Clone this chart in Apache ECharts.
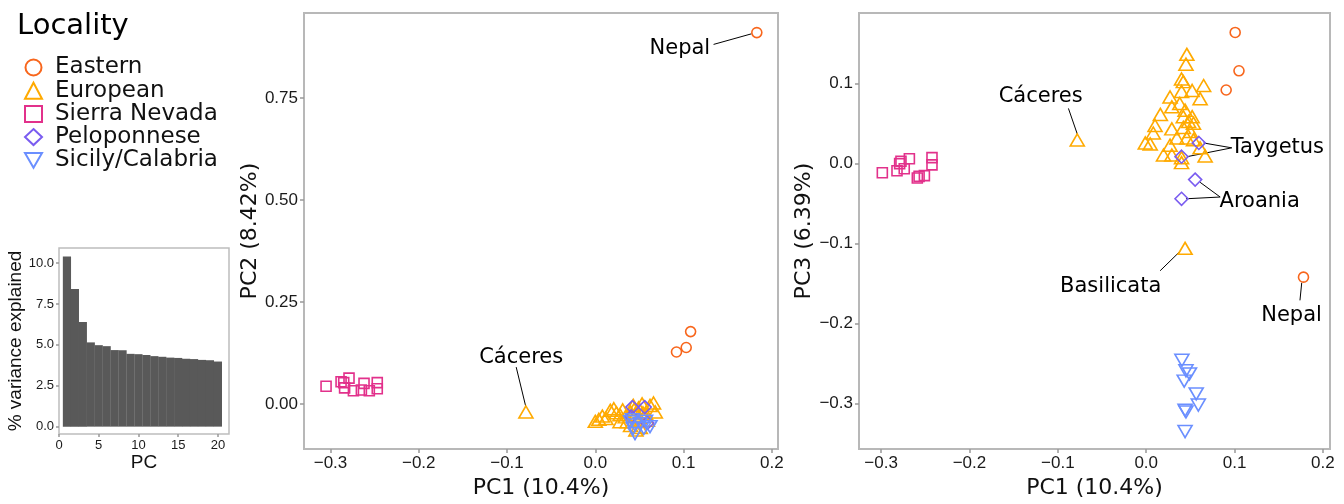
<!DOCTYPE html>
<html>
<head>
<meta charset="utf-8">
<script src="https://cdn.jsdelivr.net/npm/echarts@6/dist/echarts.min.js"></script>
<style>
html, body { margin: 0; background: #fff; }
#container { width: 1344px; height: 504px; }
</style>
</head>
<body>
<div id="container"></div>
<script>
// groups and styling
var groups = ['Eastern', 'European', 'Sierra Nevada', 'Peloponnese', 'Sicily/Calabria'];
var colors = ['#F8661C', '#FFAA00', '#E2318B', '#7A5CF0', '#6B8FFF'];
var symbols = ['circle', 'triangle', 'rect', 'diamond', 'path://M0,0L10,0L5,8.66Z'];
var symbolSizes = [10, [14, 12], 10, 13, [14, 12]];

// inset: % variance explained per PC
var pcIndex = [1, 2, 3, 4, 5, 6, 7, 8, 9, 10, 11, 12, 13, 14, 15, 16, 17, 18, 19, 20];
var variance = [10.4, 8.42, 6.39, 5.15, 4.98, 4.92, 4.68, 4.67, 4.45, 4.43, 4.38, 4.31, 4.27, 4.22, 4.2, 4.15, 4.13, 4.08, 4.06, 3.98];

// PC1 vs PC2
var eastern12 = [[0.183, 0.910], [0.108, 0.177], [0.103, 0.138], [0.092, 0.127]];
var european12 = [[-0.0786, -0.020],
  [0.000, -0.043], [0.004, -0.038], [0.008, -0.030], [0.012, -0.036], [0.017, -0.016], [0.021, -0.012],
  [0.024, -0.022], [0.028, -0.027], [0.028, -0.044], [0.031, -0.015], [0.034, -0.032], [0.036, -0.044],
  [0.040, -0.020], [0.040, -0.053], [0.043, -0.004], [0.045, -0.028], [0.047, -0.040], [0.049, -0.010],
  [0.051, -0.058], [0.053, 0.000], [0.054, -0.022], [0.057, -0.024], [0.059, -0.040], [0.062, -0.004],
  [0.066, 0.002], [0.068, -0.020], [0.044, -0.014], [0.050, -0.034], [0.046, -0.064]];
var sierra12 = [[-0.305, 0.043], [-0.288, 0.054], [-0.285, 0.052], [-0.279, 0.063], [-0.284, 0.039], [-0.274, 0.032],
  [-0.265, 0.034], [-0.262, 0.050], [-0.256, 0.032], [-0.247, 0.052], [-0.247, 0.037]];
var pelop12 = [[0.042, -0.008], [0.056, -0.008], [0.059, -0.047], [0.041, -0.031]];
var sicily12 = [[0.040, -0.044], [0.045, -0.052], [0.051, -0.048], [0.055, -0.060], [0.043, -0.060], [0.062, -0.056],
  [0.045, -0.073], [0.057, -0.043], [0.042, -0.039]];

// PC1 vs PC3
var eastern13 = [[0.178, -0.142], [0.1007, 0.164], [0.105, 0.116], [0.0905, 0.092]];
var european13 = [[-0.078, 0.0295], [0.044, -0.106],
  [0.046, 0.1366], [0.045, 0.1243], [0.040, 0.1058], [0.042, 0.1025], [0.065, 0.0976], [0.052, 0.0914],
  [0.040, 0.0902], [0.027, 0.0833], [0.061, 0.0812], [0.038, 0.0751], [0.029, 0.0710], [0.044, 0.0668],
  [0.016, 0.0615], [0.052, 0.0587], [0.042, 0.0587], [0.048, 0.0526], [0.010, 0.0476], [0.0535, 0.0505],
  [0.029, 0.0434], [0.042, 0.0452], [0.008, 0.0382], [0.050, 0.0402], [-0.001, 0.0258], [0.0045, 0.0246],
  [0.027, 0.0230], [0.046, 0.0320], [0.0535, 0.0299], [0.0347, 0.0320], [0.0196, 0.0107], [0.029, 0.0107],
  [0.040, 0.0074], [0.0667, 0.0095], [0.061, 0.0197], [0.040, 0.0012]];
var sierra13 = [[-0.2986, -0.0115], [-0.282, -0.009], [-0.279, 0.0], [-0.2775, 0.003], [-0.2738, -0.0065], [-0.268, 0.006],
  [-0.259, -0.018], [-0.257, -0.016], [-0.251, -0.015], [-0.2424, 0.0074], [-0.2424, -0.0016]];
var pelop13 = [[0.0596, 0.0258], [0.040, 0.0086], [0.0554, -0.020], [0.040, -0.044]];
var sicily13 = [[0.0404, -0.246], [0.045, -0.259], [0.049, -0.263], [0.043, -0.272], [0.0566, -0.288], [0.059, -0.302],
  [0.044, -0.3085], [0.045, -0.3105], [0.044, -0.335]];

// annotations: text centre and leader lines, in data units
var notes12 = [
  { text: 'Nepal', at: [0.0964, 0.869], lines: [[[0.134, 0.881], [0.177, 0.907]]] },
  { text: 'Cáceres', at: [-0.0834, 0.1127], lines: [[[-0.0896, 0.090], [-0.0786, -0.008]]] }
];
var notes13 = [
  { text: 'Cáceres', at: [-0.1188, 0.0837], lines: [[[-0.088, 0.069], [-0.078, 0.037]]] },
  { text: 'Taygetus', at: [0.149, 0.0192], lines: [[[0.0969, 0.0197], [0.0648, 0.0258]], [[0.0969, 0.0197], [0.046, 0.0086]]] },
  { text: 'Aroania', at: [0.129, -0.048], lines: [[[0.0837, -0.0418], [0.061, -0.0234]], [[0.0837, -0.0418], [0.045, -0.044]]] },
  { text: 'Basilicata', at: [-0.0396, -0.154], lines: [[[0.0158, -0.134], [0.0385, -0.1095]]] },
  { text: 'Nepal', at: [0.165, -0.191], lines: [[[0.174, -0.171], [0.176, -0.149]]] }
];

var tickFont = "'Liberation Sans Narrow', 'Liberation Sans', sans-serif";
var textFont = 'DejaVu Sans';

function fmt(d) {
  return function (v) {
    return (v < -1e-9 ? '\u2212' : '') + Math.abs(v).toFixed(d);
  };
}

function axis(grid, min, max, ticks, digits, name, gap, small) {
  return {
    type: 'value', gridIndex: grid, min: min, max: max,
    name: name, nameLocation: 'middle', nameGap: gap,
    nameTextStyle: { fontFamily: small ? 'Liberation Sans' : textFont, fontSize: small ? 19 : 22, color: '#111' },
    axisLine: { show: false, onZero: false },
    axisTick: { show: true, customValues: ticks, length: small ? 3 : 4, lineStyle: { color: '#999', width: 1.5 } },
    axisLabel: {
      customValues: ticks, formatter: fmt(digits), margin: small ? 5 : 6,
      fontFamily: tickFont, fontSize: small ? 13 : 17, color: '#1a1a1a'
    },
    splitLine: { show: false }
  };
}

var dom = document.getElementById('container');
var myChart = echarts.init(dom, null, { renderer: 'canvas' });

var panels = [
  [eastern12, european12, sierra12, pelop12, sicily12],
  [eastern13, european13, sierra13, pelop13, sicily13]
];
var notes = [notes12, notes13];

var series = [{
  type: 'bar', xAxisIndex: 0, yAxisIndex: 0,
  data: pcIndex.map(function (p, i) { return [p, variance[i]]; }),
  barWidth: 8.2, itemStyle: { color: '#595959' }, silent: true
}];

panels.forEach(function (sets, p) {
  sets.forEach(function (pts, g) {
    series.push({
      name: groups[g], type: 'scatter', xAxisIndex: p + 1, yAxisIndex: p + 1,
      data: pts, symbol: symbols[g], symbolSize: symbolSizes[g],
      itemStyle: { color: 'rgba(0,0,0,0)', borderColor: colors[g], borderWidth: 1.6, opacity: 1 },
      emphasis: { disabled: true }
    });
  });
  var segs = [];
  notes[p].forEach(function (n) { n.lines.forEach(function (l) { segs.push({ coords: l }); }); });
  series.push({
    name: 'leaders' + p, type: 'lines', coordinateSystem: 'cartesian2d',
    xAxisIndex: p + 1, yAxisIndex: p + 1, data: segs, silent: true,
    lineStyle: { color: '#000', width: 1, opacity: 1, curveness: 0 }
  });
  series.push({
    name: 'notes' + p, type: 'scatter', xAxisIndex: p + 1, yAxisIndex: p + 1,
    data: notes[p].map(function (n) { return { name: n.text, value: n.at }; }),
    symbolSize: 1, itemStyle: { color: 'rgba(0,0,0,0)', opacity: 1 }, silent: true, z: 5,
    label: {
      show: true, position: [0, 0], align: 'center', verticalAlign: 'middle', formatter: '{b}',
      fontFamily: textFont, fontSize: 21, color: '#000', textBorderWidth: 0
    }
  });
});

var option = {
  animation: false,
  title: {
    text: 'Locality', left: 12, top: 7,
    textStyle: { fontFamily: textFont, fontSize: 29, fontWeight: 'normal', color: '#000' }
  },
  legend: {
    orient: 'vertical', left: 19, top: 51, itemWidth: 17, itemHeight: 16, itemGap: 0.2,
    selectedMode: false,
    textStyle: { fontFamily: textFont, fontSize: 23, color: '#111', padding: [0, 0, 0, 8], lineHeight: 21 },
    data: groups.map(function (g, i) {
      return {
        name: g, icon: symbols[i],
        itemStyle: { color: 'rgba(0,0,0,0)', borderColor: colors[i], borderWidth: 2 }
      };
    })
  },
  grid: [
    { left: 59, top: 248, width: 170, height: 186, show: true, borderColor: '#bdbdbd', borderWidth: 1.5, backgroundColor: '#fff' },
    { left: 304, top: 13, width: 474, height: 443, show: true, borderColor: '#b8b8b8', borderWidth: 2, backgroundColor: '#fff' },
    { left: 859, top: 13, width: 471, height: 443, show: true, borderColor: '#b8b8b8', borderWidth: 2, backgroundColor: '#fff' }
  ],
  xAxis: [
    axis(0, 0, 21.4, [0, 5, 10, 15, 20], 0, 'PC', 12, true),
    axis(1, -0.330, 0.207, [-0.3, -0.2, -0.1, 0, 0.1, 0.2], 1, 'PC1 (10.4%)', 26),
    axis(2, -0.325, 0.208, [-0.3, -0.2, -0.1, 0, 0.1, 0.2], 1, 'PC1 (10.4%)', 26)
  ],
  yAxis: [
    axis(0, -0.45, 10.92, [0, 2.5, 5, 7.5, 10], 1, '% variance explained', 34, true),
    axis(1, -0.111, 0.958, [0, 0.25, 0.5, 0.75], 2, 'PC2 (8.42%)', 41),
    axis(2, -0.357, 0.1883, [-0.3, -0.2, -0.1, 0, 0.1], 1, 'PC3 (6.39%)', 36)
  ],
  series: series
};

myChart.setOption(option);
window.addEventListener('resize', myChart.resize);
</script>
</body>
</html>
